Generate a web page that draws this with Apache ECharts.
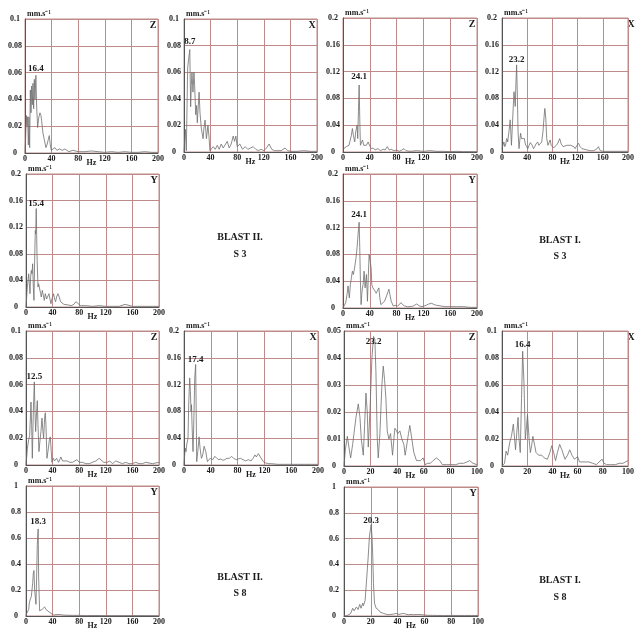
<!DOCTYPE html>
<html><head><meta charset="utf-8">
<script src="https://cdn.jsdelivr.net/npm/echarts@6/dist/echarts.min.js"></script>
<style>html,body{margin:0;padding:0;background:#fff}#c{width:637px;height:631px}</style>
</head><body><div id="c"></div>
<script>
// ---- DATA: [frequency Hz, amplitude mm/s] ----
const b2s3z = [[0,0],[1,0.012],[2,0.028],[3,0.02],[4,0.027],[5,0.006],[6,0.027],[7,0.004],[8,0.047],[9,0.03],[10,0.05],[11,0.036],[12,0.052],[13,0.033],[14,0.055],[15,0.04],[16.4,0.058],[17.5,0.035],[19,0.019],[20.5,0.026],[22.5,0.03],[24,0.028],[25,0.024],[27,0.015],[29,0.01],[31.5,0.004],[33,0.006],[35,0.01],[36.5,0.013],[38,0.006],[39.5,0.002],[42,0.003],[45,0.004],[48,0.002],[52,0.003],[56,0.002],[60,0.003],[66,0.001],[72,0.002],[80,0.001],[90,0.001],[100,0.0015],[110,0.001],[120,0.0005],[130,0.001],[140,0.0005],[150,0.001],[160,0.0005],[170,0.0005],[180,0.001],[190,0.0005],[200,0.0005]];
const b2s3x = [[0,0],[1,0.008],[2,0.017],[3.5,0.001],[5.5,0.063],[7,0.07],[8.7,0.077],[10,0.034],[11,0.05],[12,0.06],[13.5,0.045],[15,0.06],[16,0.05],[17.6,0.028],[19,0.035],[20,0.022],[21.5,0.035],[22.7,0.045],[24,0.03],[26,0.018],[28.7,0.01],[30,0.018],[31.7,0.024],[33.7,0.01],[36,0.02],[37.5,0.012],[39,0.001],[41,0.002],[44,0.004],[47,0.002],[50,0.005],[53,0.002],[56,0.006],[59,0.003],[62,0.004],[65,0.008],[68,0.003],[71,0.006],[74,0.012],[76,0.008],[78,0.012],[80,0.004],[84,0.006],[88,0.002],[92,0.004],[96,0.002],[100,0.003],[104,0.004],[108,0.002],[112,0.001],[116,0.002],[120,0.001],[124,0.003],[128,0.006],[132,0.002],[136,0.001],[140,0.001],[146,0.001],[152,0.003],[156,0.001],[160,0.0005],[170,0.0005],[180,0.001],[190,0.0005],[200,0.0005]];
const b1s3z = [[0,0.003],[2,0.006],[4,0.005],[5,0.008],[7,0.006],[9,0.01],[11,0.012],[12.5,0.025],[14,0.035],[15.5,0.025],[17.5,0.015],[19,0.03],[21,0.04],[22,0.02],[23,0.06],[24.1,0.1],[25,0.05],[26,0.01],[27.5,0.012],[29,0.018],[31,0.01],[33,0.012],[35,0.01],[37.5,0.015],[40,0.009],[42,0.005],[45,0.006],[48,0.003],[52,0.005],[56,0.002],[60,0.004],[63,0.003],[66,0.008],[69,0.003],[72,0.004],[76,0.002],[80,0.003],[84,0.001],[88,0.003],[91,0.005],[94,0.002],[100,0.001],[110,0.002],[120,0.001],[130,0.002],[140,0.001],[150,0.001],[160,0.0005],[170,0.001],[180,0.0005],[190,0.0005],[200,0.0005]];
const b1s3x = [[0,0.005],[1.5,0.01],[3,0.015],[4.5,0.008],[6,0.012],[7.5,0.02],[9,0.015],[11,0.03],[13,0.048],[14,0.03],[15,0.01],[16.5,0.04],[18,0.07],[19,0.09],[20,0.08],[21,0.068],[22,0.1],[23.2,0.13],[24.5,0.08],[25.5,0.03],[27,0.005],[28,0.015],[29.5,0.028],[31,0.02],[32.5,0.022],[34,0.018],[35.5,0.02],[37,0.012],[39,0.008],[41,0.005],[43,0.01],[45,0.014],[46.5,0.015],[48,0.01],[50,0.005],[52,0.008],[54,0.012],[56.5,0.015],[58.5,0.01],[61,0.008],[63,0.015],[65,0.03],[67,0.055],[68,0.065],[69.5,0.05],[71,0.02],[73,0.01],[75,0.015],[76.5,0.018],[78,0.01],[80,0.012],[82,0.006],[85,0.008],[88,0.012],[91.5,0.02],[94,0.012],[97,0.008],[100,0.006],[103,0.01],[106,0.008],[109,0.01],[111.5,0.012],[114,0.008],[116,0.005],[119,0.01],[121.5,0.013],[124,0.008],[127,0.005],[130,0.004],[135,0.003],[140,0.002],[145,0.002],[150,0.004],[153,0.008],[156,0.002],[160,0.001],[170,0.001],[180,0.001],[190,0.001],[200,0.001]];
const b2s3y = [[0,0],[2,0.03],[4,0.05],[5,0.035],[6,0.02],[7,0.045],[8,0.055],[9,0.05],[10,0.065],[11,0.03],[12,0.01],[13,0.07],[14,0.115],[14.6,0.11],[15.4,0.148],[16.5,0.08],[18,0.03],[19,0.035],[20.5,0.035],[22,0.02],[23,0.015],[24.5,0.025],[26,0.018],[27.5,0.01],[29,0.02],[31,0.012],[32.5,0.01],[34.5,0.02],[36,0.012],[37.5,0.005],[39,0.012],[41.5,0.02],[43,0.012],[44.5,0.008],[46,0.015],[48,0.02],[50,0.015],[52,0.008],[54,0.005],[57,0.004],[60,0.002],[64,0.003],[68,0.002],[72,0.004],[75,0.008],[78,0.005],[82,0.002],[90,0.002],[100,0.001],[110,0.002],[120,0.001],[130,0.001],[140,0.001],[149,0.004],[152,0.001],[160,0.001],[170,0.001],[180,0.001],[190,0.001],[200,0.001]];
const b1s3y = [[0,0],[2,0],[4,0.008],[6,0.02],[7.5,0.033],[9.5,0.015],[11,0.035],[12.5,0.045],[14,0.055],[15.5,0.05],[17,0.058],[18,0.06],[19.5,0.075],[21,0.09],[22.5,0.11],[24.1,0.128],[25,0.09],[26,0.04],[27,0.005],[28,0.02],[29,0.03],[30,0.035],[31.5,0.055],[33,0.03],[34,0.04],[35,0.05],[36.5,0.01],[37.5,0.04],[39,0.08],[40.5,0.07],[42,0.06],[43,0.035],[44.5,0.03],[46,0.028],[48,0.025],[49.5,0.022],[51,0.025],[53.5,0.03],[55,0.015],[56.5,0.005],[59,0.006],[62,0.01],[65,0.018],[68.5,0.028],[70,0.02],[72,0.01],[75,0.003],[78,0.004],[81,0.003],[84,0.005],[86.5,0.008],[89,0.005],[92,0.003],[96,0.002],[100,0.002],[105,0.003],[110,0.006],[114,0.003],[118,0.002],[124,0.004],[128,0.006],[132.5,0.007],[136,0.005],[140,0.004],[146,0.003],[152,0.002],[160,0.002],[170,0.002],[180,0.002],[190,0.001],[200,0.001]];
const b2s8z = [[0,0],[2,0.012],[4,0.019],[5.5,0.022],[7.5,0.047],[8.5,0.03],[9.5,0.005],[11,0.04],[12.5,0.062],[13.5,0.04],[14.5,0.025],[16,0.04],[17,0.048],[18,0.03],[19.5,0.01],[21,0.018],[22.5,0.025],[24,0.035],[25.5,0.025],[26.5,0.02],[28,0.035],[29,0.039],[30,0.03],[31.5,0.005],[33,0.01],[35,0.018],[36.5,0.021],[38,0.01],[39,0.002],[41,0.005],[43,0.003],[46,0.005],[49,0.002],[52.5,0.006],[55,0.003],[58,0.002],[62,0.003],[66,0.002],[70,0.002],[73,0.003],[76.5,0.004],[80,0.002],[85,0.002],[90,0.001],[95,0.001],[100,0.002],[105,0.003],[110,0.005],[113,0.004],[117,0.002],[122,0.002],[126,0.003],[130,0.001],[135,0.003],[140,0.002],[145,0.001],[150,0.002],[155,0.001],[160,0.001],[165,0.002],[170,0.001],[175,0.001],[180,0.002],[190,0.001],[200,0.002]];
const b2s8x = [[0,0],[1,0.015],[2,0.025],[3,0.02],[4,0.03],[6,0.04],[7,0.09],[8.5,0.13],[9.5,0.11],[10.5,0.08],[11.2,0.09],[12,0.06],[13.5,0.02],[15,0.08],[16,0.13],[17.4,0.15],[18,0.1],[19,0.005],[20.5,0.02],[22,0.035],[22.5,0.042],[24,0.025],[26,0.01],[28,0.015],[30,0.028],[31,0.03],[32.5,0.02],[35,0.005],[37,0.008],[40,0.01],[43,0.008],[46,0.013],[49,0.01],[52,0.008],[55,0.009],[58,0.007],[61,0.008],[64,0.01],[68,0.01],[71,0.013],[74,0.01],[78,0.008],[81,0.009],[84,0.01],[88,0.008],[92,0.006],[96,0.008],[100,0.006],[103,0.01],[106,0.015],[108,0.012],[111,0.017],[114,0.012],[118.5,0.005],[122,0.003],[126,0.002],[130,0.002],[140,0.001],[150,0.001],[160,0.001],[170,0.001],[180,0.001],[190,0.001],[200,0.001]];
const b1s8z = [[0,0],[1,0.006],[2.5,0.011],[4,0.006],[5,0.003],[6.5,0.008],[7.5,0.012],[9,0.018],[10.75,0.023],[12,0.018],[13,0.01],[14.5,0.004],[15.5,0.015],[16.5,0.027],[17.5,0.02],[18.25,0.007],[19.5,0.02],[21,0.04],[22.2,0.048],[23.2,0.047],[24,0.035],[25,0.01],[25.75,0.003],[27,0.012],[28.5,0.03],[29.5,0.037],[30.5,0.032],[31.5,0.025],[32.5,0.013],[33.75,0.01],[35,0.012],[36.5,0.004],[37.5,0.01],[38.25,0.014],[39.5,0.013],[40.5,0.012],[42,0.013],[43.5,0.01],[45,0.008],[46,0.004],[47,0.004],[48.5,0.012],[49.5,0.015],[51,0.01],[52.5,0.005],[54.5,0.002],[56,0.0015],[57.5,0.002],[59.5,0.003],[61,0.0005],[63,0.001],[65,0.001],[67,0.002],[69.5,0.003],[72,0.002],[74,0.0005],[77,0.0005],[80,0.0005],[84,0.0005],[87,0.001],[90,0.001],[92.5,0.0015],[94.5,0.002],[97,0.001],[100,0.0005]];
const b1s8x = [[0,0],[2,0.002],[3.25,0.011],[4.5,0.008],[5.5,0.014],[6.25,0.018],[7.5,0.022],[9,0.031],[10,0.02],[10.75,0.012],[11.75,0.025],[12.75,0.036],[13.5,0.02],[14.5,0.01],[15.5,0.05],[16.4,0.085],[17.5,0.06],[18.5,0.02],[19.5,0.03],[20.25,0.038],[21.5,0.02],[22.5,0.01],[23.5,0.015],[24.5,0.022],[26,0.015],[27,0.01],[29,0.008],[31.5,0.008],[33.5,0.006],[36,0.005],[38,0.01],[39.5,0.015],[41,0.01],[42.5,0.004],[44,0.01],[45.75,0.016],[47.5,0.012],[50,0.005],[52,0.008],[53.75,0.012],[55.5,0.008],[57.5,0.005],[59,0.006],[60,0.007],[61.5,0.003],[63,0.002],[66,0.003],[69,0.003],[72,0.002],[75,0.001],[77,0.003],[79.5,0.005],[81,0.002],[83,0.001],[86,0.001],[90,0.001],[93,0.002],[96,0.002],[98,0.003],[100,0.004]];
const b2s8y = [[0,0],[1,0.02],[2,0.03],[4,0.05],[5,0.1],[6.5,0.13],[8,0.15],[9,0.16],[10,0.25],[11,0.33],[12,0.35],[13,0.2],[15,0.09],[16,0.3],[17,0.55],[18.3,0.67],[19,0.3],[20.5,0.04],[22,0.03],[24,0.05],[26,0.06],[28,0.07],[30,0.05],[32,0.04],[35,0.03],[38,0.015],[41,0.008],[45,0.01],[50,0.012],[55,0.008],[60,0.006],[70,0.005],[80,0.005],[90,0.003],[100,0.004],[120,0.003],[140,0.003],[160,0.003],[180,0.003],[200,0.002]];
const b1s8y = [[0,0],[2,0.003],[3.5,0.01],[5,0.02],[6.5,0.06],[7.5,0.04],[8,0.03],[9.25,0.07],[10.5,0.05],[11,0.04],[11.75,0.09],[12.75,0.06],[13,0.05],[14,0.1],[14.5,0.08],[15,0.09],[15.75,0.12],[17,0.3],[18,0.45],[19,0.62],[20.3,0.71],[21,0.6],[21.5,0.45],[22,0.25],[22.75,0.1],[24,0.06],[25.5,0.05],[27,0.03],[29.5,0.02],[31,0.015],[33,0.01],[35,0.012],[37,0.015],[39,0.02],[41,0.012],[43,0.018],[44.5,0.02],[46,0.015],[48,0.01],[50,0.012],[52,0.01],[55,0.012],[58,0.01],[60,0.008],[63,0.005],[66,0.005],[70,0.004],[75,0.004],[80,0.004],[85,0.004],[90,0.004],[95,0.004],[100,0.004]];

const peakLabels = ['16.4','8.7','24.1','23.2','15.4','24.1','12.5','17.4','23.2','16.4','18.3','20.3'];
const components = ['Z','X','Z','X','Y','Y','Z','X','Z','X','Y','Y'];
const unitText = 'mm.s\u207B\u00B9';
const blastTexts = [['BLAST II.','S 3'],['BLAST I.','S 3'],['BLAST II.','S 8'],['BLAST I.','S 8']];

// ---- LAYOUT (positions / axis ranges) ----
const panels = [
  {d:b2s3z, l:25,  t:19,  w:133, h:134, ymax:0.1,  yint:0.02, xmax:200, xint:40, dist:2},
  {d:b2s3x, l:184, t:19,  w:133, h:133, ymax:0.1,  yint:0.02, xmax:200, xint:40, dist:2.5},
  {d:b1s3z, l:343, t:18,  w:134, h:134, ymax:0.2,  yint:0.04, xmax:200, xint:40, dist:3.5},
  {d:b1s3x, l:502, t:18,  w:134, h:134, ymax:0.2,  yint:0.04, xmax:200, xint:40, dist:0},
  {d:b2s3y, l:26,  t:174, w:133, h:133, ymax:0.2,  yint:0.04, xmax:200, xint:40, dist:0},
  {d:b1s3y, l:343, t:174, w:134, h:134, ymax:0.2,  yint:0.04, xmax:200, xint:40, dist:2.5},
  {d:b2s8z, l:26,  t:331, w:133, h:134, ymax:0.1,  yint:0.02, xmax:200, xint:40, dist:0},
  {d:b2s8x, l:184, t:331, w:134, h:134, ymax:0.2,  yint:0.04, xmax:200, xint:40, dist:-0.5},
  {d:b1s8z, l:344, t:331, w:133, h:135, ymax:0.05, yint:0.01, xmax:100, xint:20, dist:-10},
  {d:b1s8x, l:502, t:331, w:134, h:135, ymax:0.1,  yint:0.02, xmax:100, xint:20, dist:1.3},
  {d:b2s8y, l:26,  t:486, w:133, h:133, ymax:1,    yint:0.2,  xmax:200, xint:40, dist:2.5},
  {d:b1s8y, l:344, t:487, w:134, h:135, ymax:1,    yint:0.2,  xmax:100, xint:20, dist:-1.5}
];
const blastPos = [[240,237,254],[560,240,256],[240,577,593],[560,580,597]];

const FONT = '"Liberation Serif","Times New Roman",serif';
const RED = '#c08a8a';
const TXT = '#1a1a1a';

const grids=[], xAxes=[], yAxes=[], series=[], graphics=[];
panels.forEach((p,i)=>{
  grids.push({left:p.l, top:p.t, width:p.w, height:p.h, show:true, borderColor:RED, borderWidth:1, backgroundColor:'#fff'});
  xAxes.push({type:'value', gridIndex:i, min:0, max:p.xmax, interval:p.xint,
    name:'Hz', nameLocation:'middle', nameGap:6, nameMoveOverlap:false,
    nameTextStyle:{fontFamily:FONT, fontWeight:'bold', fontSize:8, color:TXT},
    axisLine:{show:true, onZero:false, lineStyle:{color:'#555', width:1}},
    axisTick:{show:false},
    splitLine:{show:true, lineStyle:{color:RED, width:1}},
    axisLabel:{margin:2, fontSize:8, fontWeight:'bold', fontFamily:FONT, color:TXT, showMaxLabel:true, showMinLabel:true}});
  yAxes.push({type:'value', gridIndex:i, min:0, max:p.ymax, interval:p.yint,
    axisLine:{show:true, onZero:false, lineStyle:{color:'#555', width:1}},
    axisTick:{show:false},
    splitLine:{show:true, lineStyle:{color:RED, width:1}},
    axisLabel:{margin:10, align:'center', fontSize:8, fontWeight:'bold', fontFamily:FONT, color:TXT,
      formatter:v=>String(+v.toFixed(3))}});
  let im=0; p.d.forEach((pt,k)=>{ if(pt[1]>p.d[im][1]) im=k; });
  series.push({type:'line', xAxisIndex:i, yAxisIndex:i, data:p.d, symbol:'none', showSymbol:false,
    lineStyle:{color:'#6f6f6f', width:0.8}, animation:false, silent:true,
    markPoint:{symbol:'circle', symbolSize:1, itemStyle:{color:'rgba(0,0,0,0)'}, animation:false,
      data:[{coord:p.d[im], value:peakLabels[i]}],
      label:{show:true, position:'top', distance:p.dist, formatter:peakLabels[i], fontSize:9, fontWeight:'bold', fontFamily:FONT, color:TXT}}});
  graphics.push({type:'text', x:p.l+2, y:p.t-1, style:{text:unitText, fontSize:8, fontWeight:'bold', fontFamily:FONT, fill:TXT, textAlign:'left', textVerticalAlign:'bottom'}});
  graphics.push({type:'text', x:p.l+p.w-5, y:p.t+6, style:{text:components[i], fontSize:10, fontWeight:'bold', fontFamily:FONT, fill:TXT, textAlign:'center', textVerticalAlign:'middle'}});
});
blastTexts.forEach((b,i)=>{
  const q=blastPos[i];
  graphics.push({type:'text', x:q[0], y:q[1], style:{text:b[0], fontSize:10, fontWeight:'bold', fontFamily:FONT, fill:TXT, textAlign:'center', textVerticalAlign:'middle'}});
  graphics.push({type:'text', x:q[0], y:q[2], style:{text:b[1], fontSize:10, fontWeight:'bold', fontFamily:FONT, fill:TXT, textAlign:'center', textVerticalAlign:'middle'}});
});

const chart = echarts.init(document.getElementById('c'), null, {renderer:'canvas'});
chart.setOption({backgroundColor:'#fff', animation:false, grid:grids, xAxis:xAxes, yAxis:yAxes, series:series, graphic:graphics});
</script></body></html>
